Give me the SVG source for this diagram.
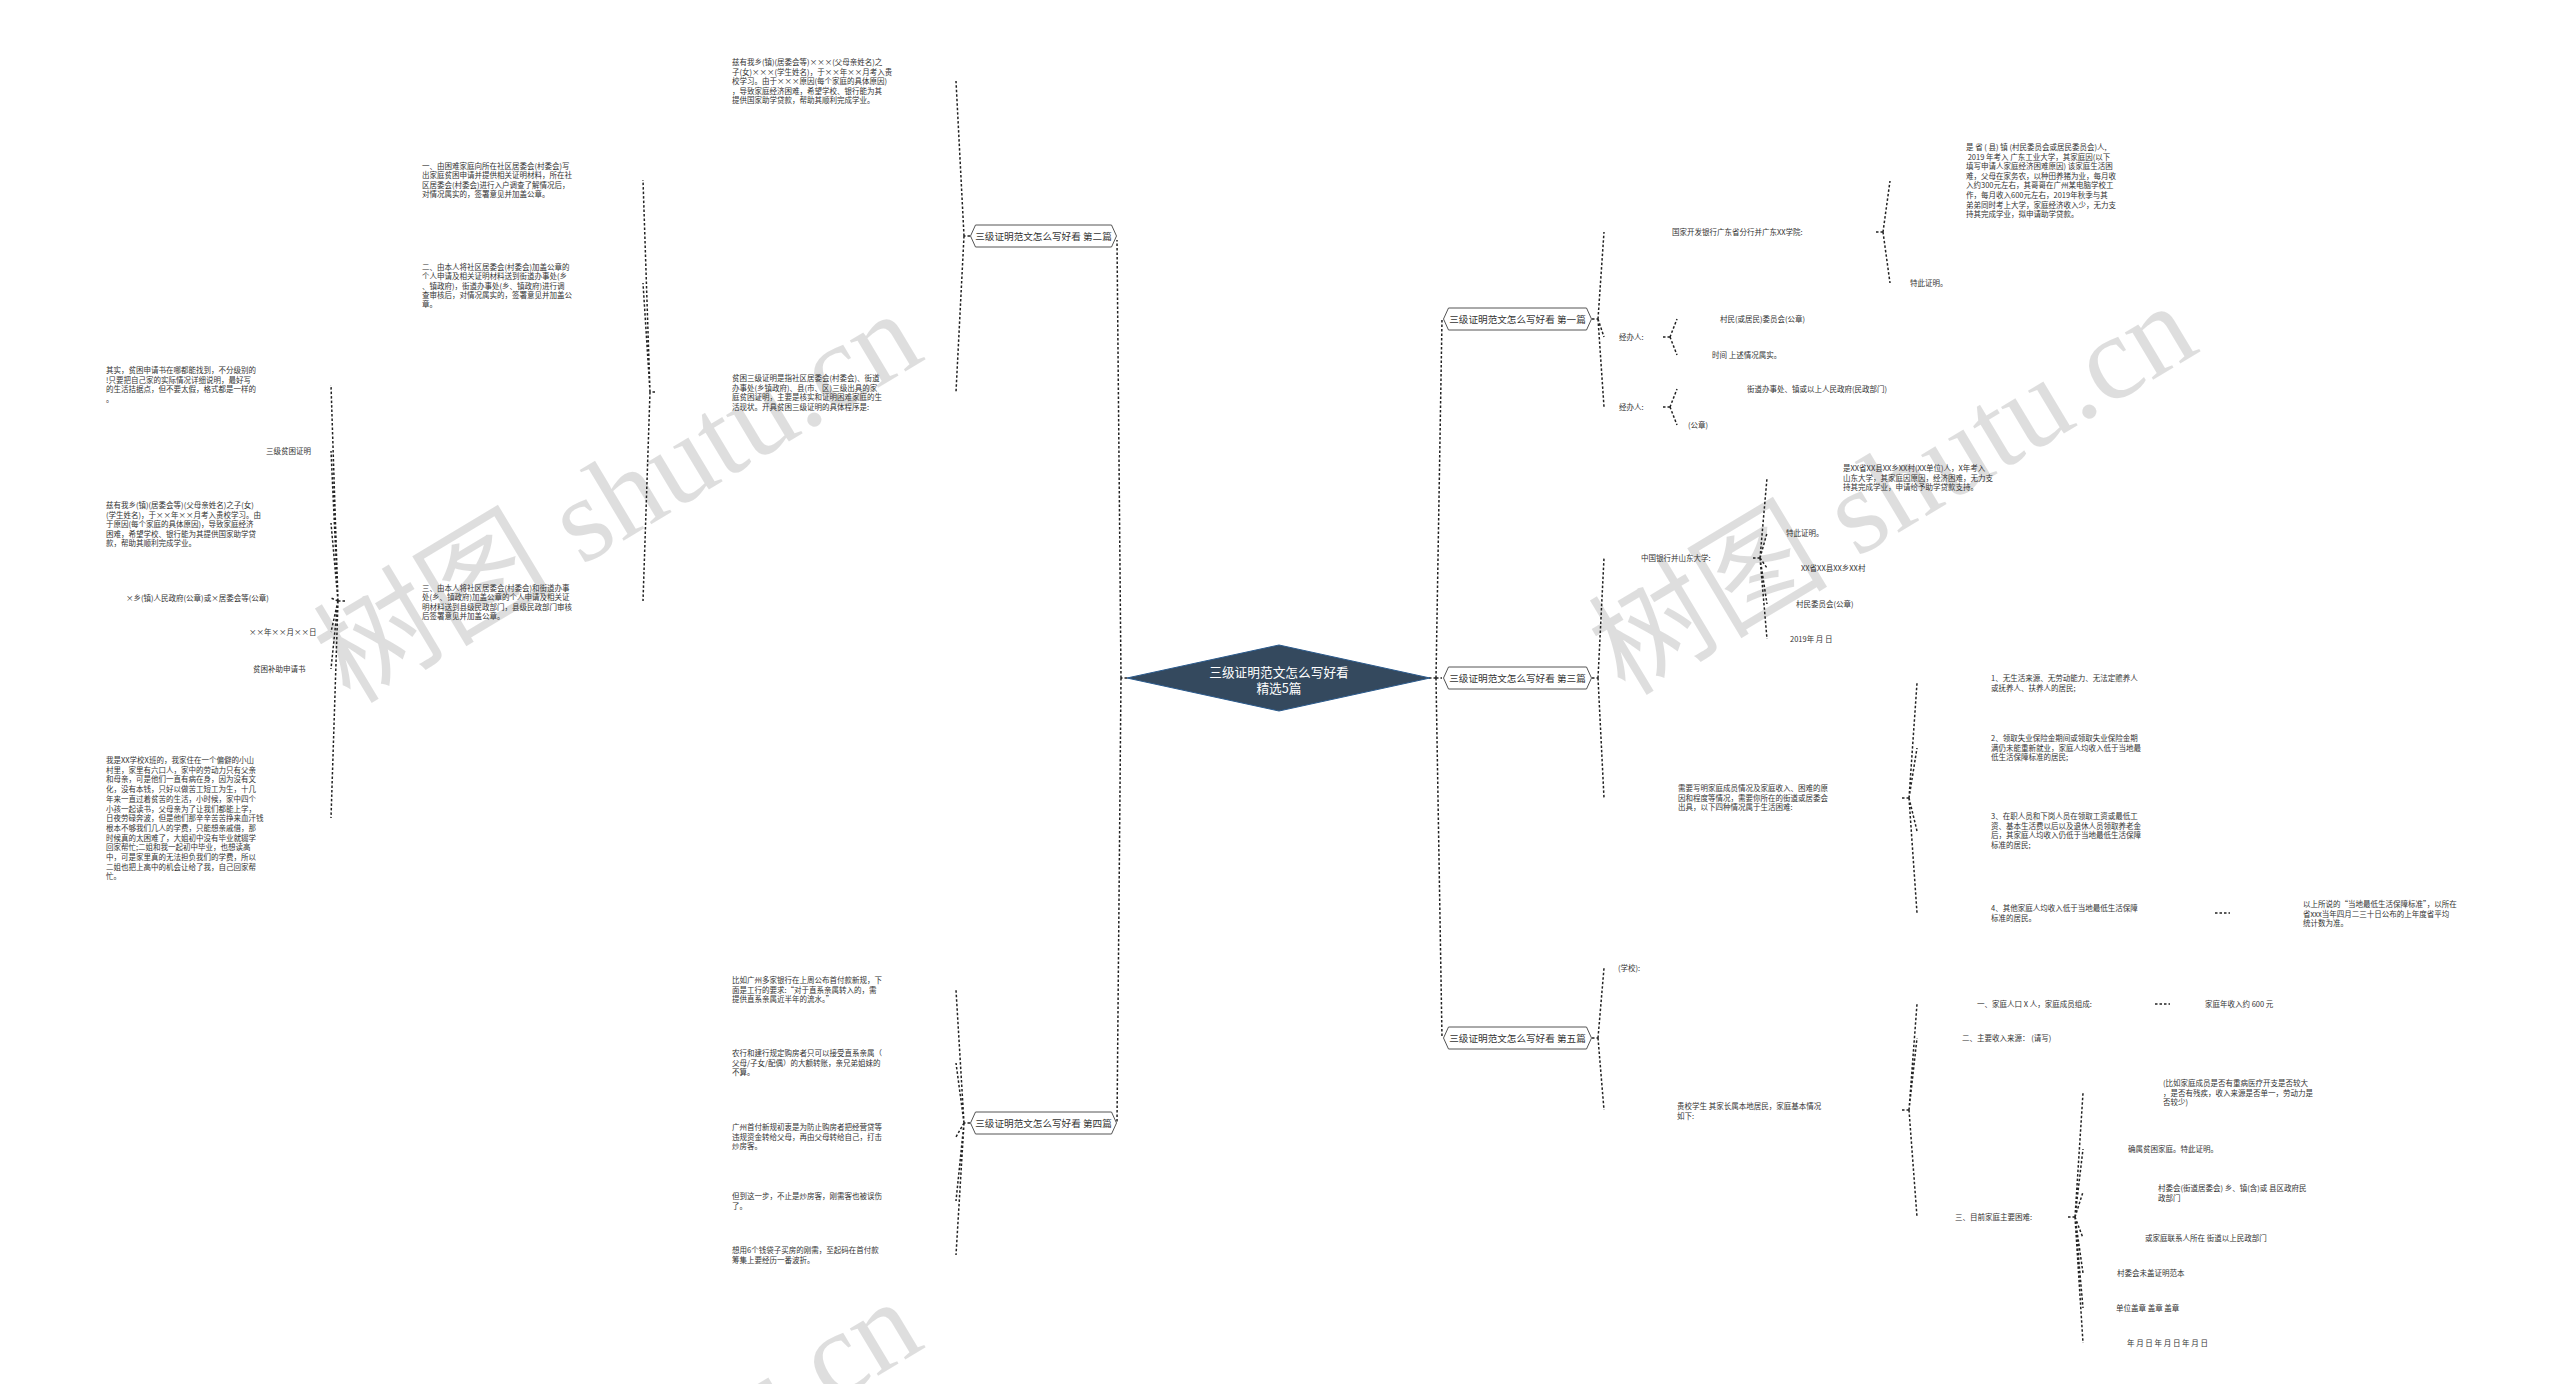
<svg xmlns="http://www.w3.org/2000/svg" width="2560" height="1384" viewBox="0 0 2560 1384">
<defs>
<style>
.t{font-family:"Noto Sans CJK SC","Liberation Sans",sans-serif;font-size:7.5px;fill:#333}
.b{font-family:"Noto Sans CJK SC","Liberation Sans",sans-serif;font-size:9.6px;fill:#333;text-anchor:middle}
.c{font-family:"Noto Sans CJK SC","Liberation Sans",sans-serif;font-size:12.7px;fill:#fff;text-anchor:middle}
.hex{fill:#fff;stroke:#555;stroke-width:1}
.con{fill:none;stroke:#222;stroke-width:1.5;stroke-dasharray:2.5 2}
.wm{font-family:"Liberation Serif","Noto Sans CJK SC",serif;font-size:120px;fill:#000;fill-opacity:0.13}
</style>
</defs>
<rect width="2560" height="1384" fill="#fff"/>

<g id="watermarks">
<text class="wm" x="350" y="705" transform="rotate(-31 350 705)">树图 shutu.cn</text>
<text class="wm" x="1625" y="697" transform="rotate(-31 1625 697)">树图 shutu.cn</text>
<text class="wm" x="350" y="1693" transform="rotate(-31 350 1693)">树图 shutu.cn</text>
</g>

<g id="connectors">
<path class="con" d="M1429 678H1436M1436 678L1442 319M1436 678L1442 678M1436 678L1442 1038"/>
<path class="con" d="M1592 319H1598M1598 319L1604 232M1598 319L1604 337M1598 319L1604 407"/>
<path class="con" d="M1876 232H1883M1883 232L1890 181M1883 232L1890 283"/>
<path class="con" d="M1663 337H1670M1670 337L1677 319M1670 337L1677 355"/>
<path class="con" d="M1663 407H1670M1670 407L1677 389M1670 407L1677 425"/>
<path class="con" d="M1592 678H1598M1598 678L1604 558M1598 678L1604 798"/>
<path class="con" d="M1753 558H1760M1760 558L1767 478M1760 558L1767 533M1760 558L1767 568M1760 558L1767 604M1760 558L1767 639"/>
<path class="con" d="M1902 798H1909M1909 798L1917 683M1909 798L1917 748M1909 798L1917 831M1909 798L1917 913"/>
<path class="con" d="M2215 913H2230"/>
<path class="con" d="M1592 1038H1598M1598 1038L1604 968M1598 1038L1604 1110"/>
<path class="con" d="M1902 1110H1909M1909 1110L1917 1004M1909 1110L1917 1038M1909 1110L1917 1217"/>
<path class="con" d="M2155 1004H2170"/>
<path class="con" d="M2068 1217H2075M2075 1217L2083 1093M2075 1217L2083 1149M2075 1217L2083 1192M2075 1217L2083 1238M2075 1217L2083 1273M2075 1217L2083 1308M2075 1217L2083 1343"/>
<path class="con" d="M1127 678H1121M1121 678L1117 240M1121 678L1117 1123"/>
<path class="con" d="M970 236H964M964 236L956 81M964 236L956 392"/>
<path class="con" d="M655 392H650M650 392L643 180M650 392L643 283M650 392L643 601"/>
<path class="con" d="M345 601H338M338 601L331 385M338 601L331 451M338 601L331 523M338 601L331 598M338 601L331 632M338 601L331 669M338 601L331 818"/>
<path class="con" d="M970 1123H964M964 1123L956 990M964 1123L956 1063M964 1123L956 1137M964 1123L956 1201M964 1123L956 1255"/>
</g>

<g id="center">
<polygon points="1127,678 1279,645 1430,678 1279,711" fill="#34495e" stroke="#2b5a8c" stroke-width="1"/>
<text class="c" x="1279" y="676.5">三级证明范文怎么写好看</text>
<text class="c" x="1279" y="692.5">精选5篇</text>
</g>

<g id="branch2">
<polygon class="hex" points="970.5,236 975.5,225 1111.5,225 1116.5,236 1111.5,247 975.5,247"/>
<text class="b" x="1043.5" y="239.5">三级证明范文怎么写好看 第二篇</text>
</g>
<g id="branch4">
<polygon class="hex" points="970.5,1123 975.5,1112 1111.5,1112 1116.5,1123 1111.5,1134 975.5,1134"/>
<text class="b" x="1043.5" y="1126.5">三级证明范文怎么写好看 第四篇</text>
</g>
<g id="branch1">
<polygon class="hex" points="1443.5,319 1448.5,308 1586.5,308 1591.5,319 1586.5,330 1448.5,330"/>
<text class="b" x="1517.5" y="322.5">三级证明范文怎么写好看 第一篇</text>
</g>
<g id="branch3">
<polygon class="hex" points="1443.5,678 1448.5,667 1586.5,667 1591.5,678 1586.5,689 1448.5,689"/>
<text class="b" x="1517.5" y="681.5">三级证明范文怎么写好看 第三篇</text>
</g>
<g id="branch5">
<polygon class="hex" points="1443.5,1038 1448.5,1027 1586.5,1027 1591.5,1038 1586.5,1049 1448.5,1049"/>
<text class="b" x="1517.5" y="1041.5">三级证明范文怎么写好看 第五篇</text>
</g>

<g id="b2-textA"><text class="t" x="732" y="65"><tspan x="732">兹有我乡(镇)(居委会等)×××(父母亲姓名)之</tspan><tspan x="732" dy="9.6">子(女)×××(学生姓名)，于××年××月考入贵</tspan><tspan x="732" dy="9.6">校学习。由于×××原因(每个家庭的具体原因)</tspan><tspan x="732" dy="9.6">，导致家庭经济困难，希望学校、银行能为其</tspan><tspan x="732" dy="9.6">提供国家助学贷款，帮助其顺利完成学业。</tspan></text></g>
<g id="b2-textB"><text class="t" x="732" y="381"><tspan x="732">贫困三级证明是指社区居委会(村委会)、街道</tspan><tspan x="732" dy="9.6">办事处(乡镇政府)、县(市、区)三级出具的家</tspan><tspan x="732" dy="9.6">庭贫困证明，主要是核实和证明困难家庭的生</tspan><tspan x="732" dy="9.6">活现状。开具贫困三级证明的具体程序是:</tspan></text></g>
<g id="b2-step1"><text class="t" x="422" y="169"><tspan x="422">一、由困难家庭向所在社区居委会(村委会)写</tspan><tspan x="422" dy="9.3">出家庭贫困申请并提供相关证明材料，所在社</tspan><tspan x="422" dy="9.3">区居委会(村委会)进行入户调查了解情况后，</tspan><tspan x="422" dy="9.3">对情况属实的，签署意见并加盖公章。</tspan></text></g>
<g id="b2-step2"><text class="t" x="422" y="270"><tspan x="422">二、由本人将社区居委会(村委会)加盖公章的</tspan><tspan x="422" dy="9.3">个人申请及相关证明材料送到街道办事处(乡</tspan><tspan x="422" dy="9.3">、镇政府)，街道办事处(乡、镇政府)进行调</tspan><tspan x="422" dy="9.3">查审核后，对情况属实的，签署意见并加盖公</tspan><tspan x="422" dy="9.3">章。</tspan></text></g>
<g id="b2-step3"><text class="t" x="422" y="591"><tspan x="422">三、由本人将社区居委会(村委会)和街道办事</tspan><tspan x="422" dy="9.3">处(乡、镇政府)加盖公章的个人申请及相关证</tspan><tspan x="422" dy="9.3">明材料送到县级民政部门，县级民政部门审核</tspan><tspan x="422" dy="9.3">后签署意见并加盖公章。</tspan></text></g>

<g id="fl-1"><text class="t" x="106" y="373"><tspan x="106">其实，贫困申请书在哪都能找到，不分级别的</tspan><tspan x="106" dy="9.6">!只要把自己家的实际情况详细说明，最好写</tspan><tspan x="106" dy="9.6">的生活拮据点，但不要太假，格式都是一样的</tspan><tspan x="106" dy="9.6">。</tspan></text></g>
<g id="fl-2"><text class="t" x="266" y="454">三级贫困证明</text></g>
<g id="fl-3"><text class="t" x="106" y="508"><tspan x="106">兹有我乡(镇)(居委会等)(父母亲姓名)之子(女)</tspan><tspan x="106" dy="9.6">(学生姓名)，于××年××月考入贵校学习。由</tspan><tspan x="106" dy="9.6">于原因(每个家庭的具体原因)，导致家庭经济</tspan><tspan x="106" dy="9.6">困难，希望学校、银行能为其提供国家助学贷</tspan><tspan x="106" dy="9.6">款，帮助其顺利完成学业。</tspan></text></g>
<g id="fl-4"><text class="t" x="126" y="601">×乡(镇)人民政府(公章)或×居委会等(公章)</text></g>
<g id="fl-5"><text class="t" x="249" y="635">××年××月××日</text></g>
<g id="fl-6"><text class="t" x="253" y="672">贫困补助申请书</text></g>
<g id="fl-7"><text class="t" x="106" y="763"><tspan x="106">我是XX学校X班的，我家住在一个偏僻的小山</tspan><tspan x="106" dy="9.7">村里，家里有六口人，家中的劳动力只有父亲</tspan><tspan x="106" dy="9.7">和母亲，可是他们一直有病在身，因为没有文</tspan><tspan x="106" dy="9.7">化，没有本钱，只好以做苦工短工为生，十几</tspan><tspan x="106" dy="9.7">年来一直过着贫苦的生活，小时候，家中四个</tspan><tspan x="106" dy="9.7">小孩一起读书，父母亲为了让我们都能上学，</tspan><tspan x="106" dy="9.7">日夜劳碌奔波，但是他们那辛辛苦苦挣来血汗钱</tspan><tspan x="106" dy="9.7">根本不够我们几人的学费，只能想亲戚借，那</tspan><tspan x="106" dy="9.7">时候真的太困难了，大姐初中没有毕业就辍学</tspan><tspan x="106" dy="9.7">回家帮忙;二姐和我一起初中毕业，也想读高</tspan><tspan x="106" dy="9.7">中，可是家里真的无法担负我们的学费，所以</tspan><tspan x="106" dy="9.7">二姐也把上高中的机会让给了我，自己回家帮</tspan><tspan x="106" dy="9.7">忙。</tspan></text></g>

<g id="b4-1"><text class="t" x="732" y="983"><tspan x="732">比如广州多家银行在上周公布首付款新规，下</tspan><tspan x="732" dy="9.6">面是工行的要求:“对于直系亲属转入的，需</tspan><tspan x="732" dy="9.6">提供直系亲属近半年的流水。”</tspan></text></g>
<g id="b4-2"><text class="t" x="732" y="1056"><tspan x="732">农行和建行规定购房者只可以接受直系亲属（</tspan><tspan x="732" dy="9.6">父母/子女/配偶）的大额转账，亲兄弟姐妹的</tspan><tspan x="732" dy="9.6">不算。</tspan></text></g>
<g id="b4-3"><text class="t" x="732" y="1130"><tspan x="732">广州首付新规初衷是为防止购房者把经营贷等</tspan><tspan x="732" dy="9.6">违规资金转给父母，再由父母转给自己，打击</tspan><tspan x="732" dy="9.6">炒房客。</tspan></text></g>
<g id="b4-4"><text class="t" x="732" y="1199"><tspan x="732">但到这一步，不止是炒房客，刚需客也被误伤</tspan><tspan x="732" dy="9.6">了。</tspan></text></g>
<g id="b4-5"><text class="t" x="732" y="1253"><tspan x="732">想用6个钱袋子买房的刚需，至起码在首付款</tspan><tspan x="732" dy="9.6">筹集上要经历一番波折。</tspan></text></g>

<g id="b1-1"><text class="t" x="1672" y="235">国家开发银行广东省分行并广东XX学院:</text></g>
<g id="b1-1a"><text class="t" x="1966" y="150"><tspan x="1966">是 省 ( 县) 镇 (村民委员会或居民委员会)人,</tspan><tspan x="1966" dy="9.6"> 2019 年考入 广东工业大学，其家庭因(以下</tspan><tspan x="1966" dy="9.6">填写申请人家庭经济困难原因) 该家庭生活困</tspan><tspan x="1966" dy="9.6">难，父母在家务农，以种田养猪为业，每月收</tspan><tspan x="1966" dy="9.6">入约300元左右，其哥哥在广州某电脑学校工</tspan><tspan x="1966" dy="9.6">作，每月收入600元左右，2019年秋季与其</tspan><tspan x="1966" dy="9.6">弟弟同时考上大学，家庭经济收入少，无力支</tspan><tspan x="1966" dy="9.6">持其完成学业，拟申请助学贷款。</tspan></text></g>
<g id="b1-1b"><text class="t" x="1910" y="286">特此证明。</text></g>
<g id="b1-2"><text class="t" x="1619" y="340">经办人:</text></g>
<g id="b1-2a"><text class="t" x="1720" y="322">村民(或居民)委员会(公章)</text></g>
<g id="b1-2b"><text class="t" x="1712" y="358">时间 上述情况属实。</text></g>
<g id="b1-3"><text class="t" x="1619" y="410">经办人:</text></g>
<g id="b1-3a"><text class="t" x="1747" y="392">街道办事处、镇或以上人民政府(民政部门)</text></g>
<g id="b1-3b"><text class="t" x="1688" y="428">(公章)</text></g>

<g id="b3-1"><text class="t" x="1641" y="561">中国银行并山东大学:</text></g>
<g id="b3-1a"><text class="t" x="1843" y="471"><tspan x="1843">是XX省XX县XX乡XX村(XX单位)人，X年考入</tspan><tspan x="1843" dy="9.6">山东大学，其家庭因原因，经济困难，无力支</tspan><tspan x="1843" dy="9.6">持其完成学业，申请给予助学贷款支持。</tspan></text></g>
<g id="b3-1b"><text class="t" x="1786" y="536">特此证明。</text></g>
<g id="b3-1c"><text class="t" x="1801" y="571">XX省XX县XX乡XX村</text></g>
<g id="b3-1d"><text class="t" x="1796" y="607">村民委员会(公章)</text></g>
<g id="b3-1e"><text class="t" x="1790" y="642">2019年 月 日</text></g>
<g id="b3-2"><text class="t" x="1678" y="791"><tspan x="1678">需要写明家庭成员情况及家庭收入、困难的原</tspan><tspan x="1678" dy="9.6">因和程度等情况，需要你所在的街道或居委会</tspan><tspan x="1678" dy="9.6">出具，以下四种情况属于生活困难:</tspan></text></g>
<g id="b3-2a"><text class="t" x="1991" y="681"><tspan x="1991">1、无生活来源、无劳动能力、无法定赡养人</tspan><tspan x="1991" dy="9.6">或抚养人、扶养人的居民;</tspan></text></g>
<g id="b3-2b"><text class="t" x="1991" y="741"><tspan x="1991">2、领取失业保险金期间或领取失业保险金期</tspan><tspan x="1991" dy="9.6">满仍未能重新就业，家庭人均收入低于当地最</tspan><tspan x="1991" dy="9.6">低生活保障标准的居民;</tspan></text></g>
<g id="b3-2c"><text class="t" x="1991" y="819"><tspan x="1991">3、在职人员和下岗人员在领取工资或最低工</tspan><tspan x="1991" dy="9.6">资、基本生活费以后以及退休人员领取养老金</tspan><tspan x="1991" dy="9.6">后，其家庭人均收入仍低于当地最低生活保障</tspan><tspan x="1991" dy="9.6">标准的居民;</tspan></text></g>
<g id="b3-2d"><text class="t" x="1991" y="911"><tspan x="1991">4、其他家庭人均收入低于当地最低生活保障</tspan><tspan x="1991" dy="9.6">标准的居民。</tspan></text></g>
<g id="b3-2d1"><text class="t" x="2303" y="907"><tspan x="2303">以上所说的“当地最低生活保障标准”，以所在</tspan><tspan x="2303" dy="9.6">省xxx当年四月二三十日公布的上年度省平均</tspan><tspan x="2303" dy="9.6">统计数为准。</tspan></text></g>

<g id="b5-1"><text class="t" x="1618" y="971">(学校):</text></g>
<g id="b5-2"><text class="t" x="1677" y="1109"><tspan x="1677">贵校学生 其家长属本地居民，家庭基本情况</tspan><tspan x="1677" dy="9.6">如下:</tspan></text></g>
<g id="b5-2a"><text class="t" x="1977" y="1007">一、家庭人口 X 人，家庭成员组成:</text></g>
<g id="b5-2a1"><text class="t" x="2205" y="1007">家庭年收入约 600 元</text></g>
<g id="b5-2b"><text class="t" x="1962" y="1041">二、主要收入来源： (请写)</text></g>
<g id="b5-2c"><text class="t" x="1955" y="1220">三、目前家庭主要困难:</text></g>
<g id="b5-2c1"><text class="t" x="2163" y="1086"><tspan x="2163">(比如家庭成员是否有重病医疗开支是否较大</tspan><tspan x="2163" dy="9.6">，是否有残疾，收入来源是否单一，劳动力是</tspan><tspan x="2163" dy="9.6">否较少)</tspan></text></g>
<g id="b5-2c2"><text class="t" x="2128" y="1152">确属贫困家庭。特此证明。</text></g>
<g id="b5-2c3"><text class="t" x="2158" y="1191"><tspan x="2158">村委会(街道居委会) 乡、镇(含)或 县区政府民</tspan><tspan x="2158" dy="9.6">政部门</tspan></text></g>
<g id="b5-2c4"><text class="t" x="2145" y="1241">或家庭联系人所在 街道以上民政部门</text></g>
<g id="b5-2c5"><text class="t" x="2117" y="1276">村委会未盖证明范本</text></g>
<g id="b5-2c6"><text class="t" x="2116" y="1311">单位盖章 盖章 盖章</text></g>
<g id="b5-2c7"><text class="t" x="2127" y="1346">年 月 日 年 月 日 年 月 日</text></g>
</svg>
